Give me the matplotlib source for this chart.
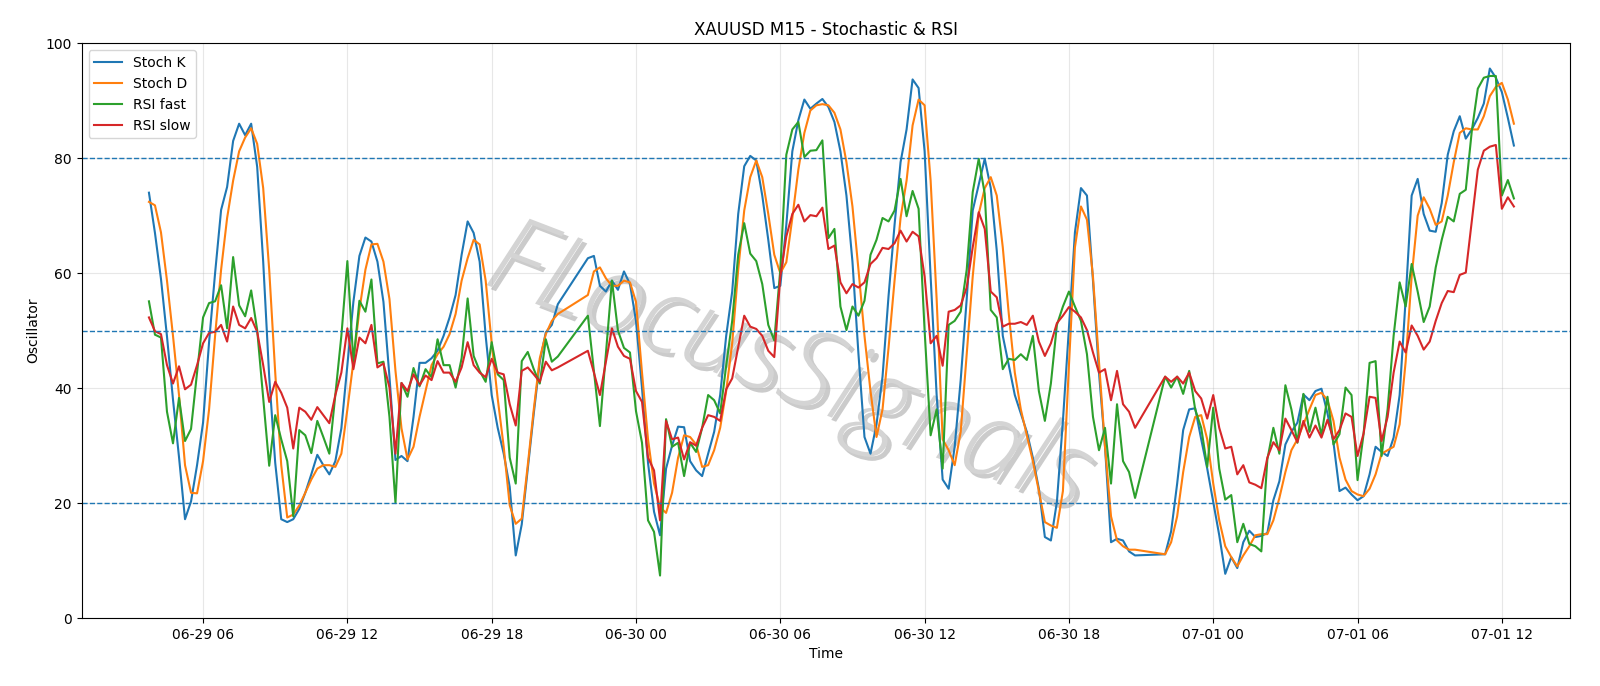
import numpy as np
import pandas as pd
import matplotlib
matplotlib.use("Agg")
import matplotlib.pyplot as plt
import matplotlib.dates as mdates
import matplotlib.patheffects as pe

# M15 bars; the 21:00-21:45 daily break has no quotes
times = pd.date_range("2025-06-29 03:45", "2025-07-01 12:30", freq="15min")
times = times[times.hour != 21]

stoch_k = [
    74, 67, 59, 49, 38, 28, 17.2, 20.3, 26.6, 34, 48, 60,
    71, 75, 83, 86, 84, 86, 78.5, 62, 42, 27, 17.2, 16.7,
    17.2, 19, 21.8, 25, 28.4, 26.6, 25, 27.3, 33, 44, 55, 63,
    66.2, 65.5, 62, 55, 42, 27.5, 28.2, 27.3, 35, 44.4, 44.4, 45.2,
    46.5, 49.1, 52.3, 56.2, 63.2, 69, 67, 62, 49.1, 38.8, 33.1, 28.6,
    22.8, 10.9, 16.3, 26, 35.6, 44.6, 49.7, 51, 54.6,
    62.6, 63, 57.8, 56.8, 58.7, 57.1, 60.3, 58.1, 51.7, 40, 27, 18.5,
    14.4, 26, 30, 33.3, 33.2, 27.3, 25.7, 24.7, 28.6, 32.4, 38.8, 49.1,
    56.8, 70.3, 78.6, 80.4, 79.6, 73.5, 65.8, 57.4, 57.8, 68.4, 81.2, 86.6,
    90.2, 88.6, 89.5, 90.3, 88.9, 86.3, 81.2, 73.5, 62, 45.9, 31.5, 28.6,
    33.7, 42, 56, 68.4, 79.3, 85, 93.7, 92.2, 81.2, 59.4, 38.8, 24.1,
    22.5, 29.8, 41.4, 55.5, 70.9, 75.4, 79.9, 74.8, 63.9, 49.1, 44, 38.8,
    35.6, 32.4, 27.9, 22.5, 14.1, 13.5, 20.2, 34.3, 50.4, 67.1, 74.8, 73.5,
    58.7, 42.7, 29.8, 13.2, 13.8, 13.5, 11.6, 10.9,
    11.1, 15.1, 23.4, 32.7, 36.3, 36.5, 31.1, 26, 20.2, 14.4, 7.7, 10.6,
    8.7, 13.2, 15.2, 14.1, 14.3, 14.8, 20.5, 23.8, 30.2, 32.4, 34, 38.9,
    37.9, 39.5, 39.9, 35.6, 30.5, 22.1, 22.7, 21.5, 20.5, 21.2, 25, 29.8,
    28.9, 28.2, 31.4, 38.8, 55.5, 73.5, 76.4, 70.3, 67.4, 67.2, 72.2, 80.6,
    84.7, 87.3, 83.4, 85, 87, 89.5, 95.6, 94, 91.5, 87, 82.2,
]

stoch_d = [
    72.4, 71.8, 67.1, 58.7, 49.1, 38.8, 26.6, 21.8, 21.7, 27.3, 36.3, 49.1,
    60.6, 69.6, 76.1, 81.2, 83.6, 85.2, 82.5, 74.8, 60.6, 42.7, 26.6, 17.5,
    18, 19.6, 21.8, 24.1, 26, 26.6, 26.6, 26.3, 28.6, 36.3, 44.6, 53.6,
    60.6, 65, 65.1, 62, 55.5, 43, 33, 27.6, 29.8, 35, 39.5, 44,
    45.9, 47.2, 49.4, 52.9, 58.7, 62.6, 65.8, 65, 58.7, 47.8, 38.2, 29.8,
    19.6, 16.4, 17.3, 26.6, 36.3, 45.2, 49.4, 51.7, 52.9,
    56.2, 60.3, 61, 59.1, 57.8, 57.8, 58.7, 58.4, 55, 42.7, 31.1, 23.4,
    19.3, 18.3, 21.8, 27.9, 31.8, 31.5, 30.2, 26.3, 26.6, 29.2, 33.1, 39.5,
    47.8, 60.6, 70.9, 76.7, 79.6, 76.7, 70.3, 63.2, 60, 61.9, 69.6, 78,
    84.4, 88.3, 89.2, 89.4, 89.2, 87.9, 85, 79.3, 71.6, 60.6, 49.1, 39.5,
    31.5, 36.3, 47, 58.7, 69.6, 76.1, 85.7, 90.2, 89.2, 76.1, 55.5, 31.1,
    29.2, 26.6, 32.4, 45.9, 59.4, 70.3, 74.8, 76.7, 73.5, 64.5, 52.9, 42.7,
    36.3, 31.8, 27.3, 22.1, 16.7, 16.1, 15.7, 22.1, 43.9, 64.5, 71.6, 69.3,
    59.4, 44.6, 29.8, 17.7, 13.5, 12.5, 11.9, 11.9,
    11.1, 13.2, 17.7, 25.4, 31.5, 35, 35.3, 31.1, 23.4, 17, 12.5, 10.6,
    9, 10.9, 12.5, 14.4, 14.6, 14.6, 17, 20.9, 25.4, 29.2, 31.1, 33.7,
    36.3, 38.8, 39.2, 37.9, 34.3, 27.9, 24.1, 22.1, 21.5, 21.2, 22.5, 25,
    28.6, 29.2, 29.8, 33.7, 44.6, 59.4, 70, 73.2, 71.2, 68.4, 69, 73.5,
    79.3, 84.4, 85.2, 85, 85, 87.3, 90.8, 92.4, 93.1, 90.2, 86,
]

rsi_fast = [
    55.1, 49.3, 48.8, 35.9, 30.4, 38.3, 30.8, 32.9, 42.7, 52.3, 54.8, 55.1,
    57.9, 50.4, 62.8, 54.4, 52.5, 57, 50.1, 38.2, 26.5, 35.3, 31.1, 27.3,
    17.7, 32.7, 31.8, 28.7, 34.3, 31.5, 28.6, 38.8, 49.1, 62.1, 44.6, 55.2,
    53.3, 58.9, 44.3, 44.6, 35, 20, 40.9, 38.5, 43.5, 40.3, 43.3, 41.9,
    48.5, 44, 44, 40.1, 45.2, 55.6, 45.6, 43, 41.1, 48, 42.4, 41.4,
    27.9, 23.4, 44.7, 46.3, 43.3, 40.8, 48.5, 44.6, 45.5,
    52.6, 43, 33.4, 46, 58.7, 50, 47, 46.2, 36, 30.5, 17, 15,
    7.4, 34.6, 29.8, 30.5, 24.7, 30.5, 28.9, 33.1, 38.8, 37.9, 35.6, 43.9,
    51.7, 63.2, 68.7, 63.4, 62.1, 58.1, 51, 48.3, 60.6, 80.6, 85, 86.3,
    80.2, 81.3, 81.4, 83.1, 66.1, 67.7, 54.2, 50.1, 54.2, 52.6, 55.2, 63.2,
    65.8, 69.6, 69, 70.9, 76.4, 69.9, 74.3, 71.2, 50, 31.8, 36.3, 26,
    51, 51.7, 53.3, 60.6, 74.1, 79.9, 73.8, 53.6, 52.3, 43.3, 45.1, 44.9,
    45.9, 44.9, 49.1, 39.5, 34.3, 40.8, 51, 54.2, 56.8, 54.2, 51.7, 45.9,
    35, 29.2, 33.1, 23.4, 37.2, 27.3, 25.4, 20.9,
    42, 40.1, 42, 39, 43, 36.3, 33.1, 26.3, 36.6, 26, 20.6, 21.4,
    13.2, 16.4, 12.9, 12.5, 11.6, 27.6, 33.1, 28.6, 40.5, 36.3, 30.5, 39,
    32.4, 36.6, 31.8, 38.5, 30.2, 32, 40.1, 38.8, 24, 32, 44.4, 44.7,
    28.2, 36.3, 49.1, 58.4, 54.2, 61.6, 56.8, 51.5, 54.2, 61, 65.8, 69.8,
    69, 73.8, 74.5, 84.7, 92.1, 94, 94.3, 94.3, 73.5, 76.2, 73,
]

rsi_slow = [
    52.3, 49.9, 49.4, 44, 40.8, 43.8, 39.8, 40.6, 44, 47.8, 49.6, 49.8,
    51, 48.1, 54.2, 51, 50.4, 52.2, 49.8, 44, 37.6, 41.1, 39.2, 36.6,
    29.5, 36.6, 35.9, 34.5, 36.7, 35.3, 33.9, 38.8, 42.7, 50.4, 43.3, 48.8,
    47.8, 51, 43.6, 44.3, 40.1, 28.6, 40.9, 39.5, 42.4, 40.5, 42.2, 41.4,
    44.7, 42.7, 42.7, 41.1, 43.6, 48, 44, 42.7, 41.9, 45.1, 42.7, 42.4,
    37.2, 33.5, 43, 43.6, 42.4, 41.1, 44.6, 43.1, 43.6,
    46.5, 42.7, 38.8, 44.6, 50.4, 47.2, 45.6, 45.1, 39.5, 37.6, 27.9, 25.7,
    17, 34.3, 31.1, 31.4, 27.6, 30.6, 30, 33.1, 35.3, 35, 34.3, 39.8,
    41.7, 47.2, 52.6, 50.7, 50.3, 49.1, 46.5, 45.4, 59.4, 66.4, 70.3, 71.9,
    69, 70.1, 69.9, 71.4, 64.2, 64.8, 58.4, 56.5, 58.1, 57.5, 58.4, 61.6,
    62.6, 64.4, 64.2, 65.2, 67.4, 65.5, 67.2, 66.4, 59.4, 47.8, 49.1, 43.9,
    53.3, 53.6, 54.4, 57.5, 64.5, 70.6, 67.7, 56.8, 55.8, 50.7, 51.2, 51.2,
    51.5, 51, 52.6, 48.1, 45.6, 47.8, 51.3, 52.6, 54.1, 53.3, 52.3, 50.1,
    46.2, 42.7, 43.3, 37.9, 43, 37.2, 35.9, 33.1,
    42, 41.1, 42, 40.8, 42.7, 39.5, 38.2, 34.7, 38.8, 33.1, 29.5, 29.8,
    25, 26.6, 23.6, 23.2, 22.6, 27.9, 30.6, 29.2, 34.7, 32.7, 30.6, 34.3,
    31.4, 33.5, 31.4, 34.5, 31.1, 32.7, 35.6, 35, 28.2, 32.1, 38.5, 38.3,
    30.8, 35, 42.7, 48.1, 46.2, 50.9, 49.1, 46.7, 48.1, 51.7, 54.8, 56.9,
    56.7, 59.7, 60.1, 69, 78, 81.3, 82, 82.3, 71.2, 73.2, 71.6,
]

levels = [20, 50, 80]

fig = plt.figure(figsize=(16, 6.86), dpi=100)
ax = fig.add_axes([0.051, 0.099, 0.930, 0.838])

ax.plot(times, stoch_k, label="Stoch K")
ax.plot(times, stoch_d, label="Stoch D")
ax.plot(times, rsi_fast, label="RSI fast")
ax.plot(times, rsi_slow, label="RSI slow")
for lv in levels:
    ax.axhline(lv, color="C0", linestyle="--", linewidth=1)

# watermark, thin italic with a soft shadow
ax.text(0.475, 0.43, "FLocusSignals", transform=ax.transAxes,
        fontsize=78, family=["Open Sans", "Roboto", "DejaVu Sans"],
        style="italic", weight=300,
        color="#d4d4d4", rotation=-21, ha="center", va="center", zorder=0.5,
        path_effects=[pe.withSimplePatchShadow(offset=(3, -3), shadow_rgbFace="#8c8c8c", alpha=0.45)])

ax.set_ylim(0, 100)
ax.set_xlim(pd.Timestamp("2025-06-29 00:57"), pd.Timestamp("2025-07-01 14:49"))
ax.xaxis.set_major_locator(mdates.HourLocator(byhour=[0, 6, 12, 18]))
ax.xaxis.set_major_formatter(mdates.DateFormatter("%m-%d %H"))
ax.grid(True, alpha=0.3)
ax.set_title("XAUUSD M15 - Stochastic & RSI")
ax.set_xlabel("Time")
ax.set_ylabel("Oscillator")
ax.legend(loc="upper left")

fig.savefig("out.png", dpi=100)
